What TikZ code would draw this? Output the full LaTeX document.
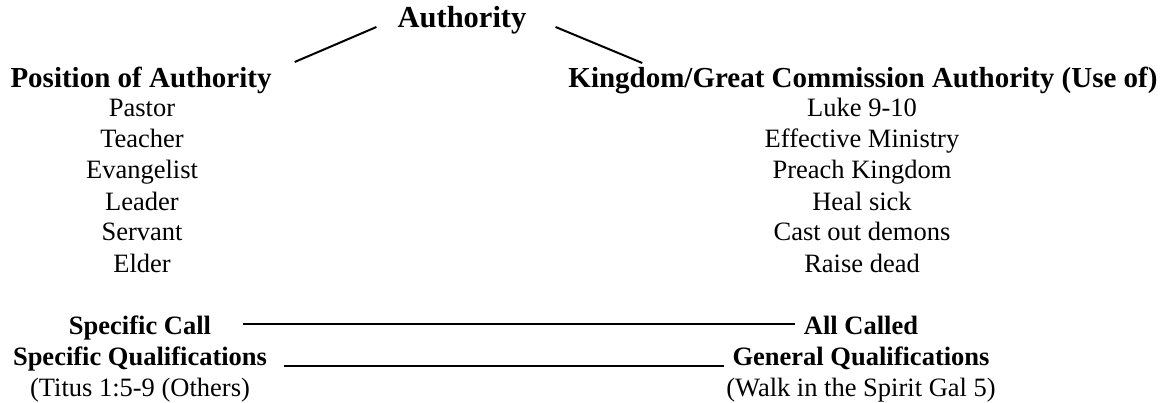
\documentclass[tikz,border=0pt]{standalone}
\usepackage{fontspec}
\setmainfont{Liberation Serif}
\tikzset{
  word/.style={inner sep=0pt,anchor=base,font=\fontsize{26.5}{30}\selectfont},
  head/.style={inner sep=0pt,anchor=base,font=\fontsize{29}{33}\selectfont\bfseries},
  tag/.style={word,font=\fontsize{26.5}{30}\selectfont\bfseries},
  link/.style={line width=2pt},
  bar/.style={line width=2.8pt}
}
\begin{document}
\begin{tikzpicture}[x=1pt,y=1pt]
\useasboundingbox (0,0) rectangle (1169,402);
\node[head,font=\fontsize{30.5}{34}\selectfont\bfseries] (auth) at (462,374) {Authority};
\node[head] (pos) at (141,314) {Position of Authority};
\node[head] (king) at (863,314) {Kingdom/Great Commission Authority (Use of)};
\foreach \txt [count=\i] in {Pastor,Teacher,Evangelist,Leader,Servant,Elder}
  \node[word] (pos\i) at (142,316-31*\i) {\txt};
\foreach \txt [count=\i] in {Luke 9-10,Effective Ministry,Preach Kingdom,Heal sick,Cast out demons,Raise dead}
  \node[word] (king\i) at (862,316-31*\i) {\txt};
\node[tag] (call) at (140,68) {Specific Call};
\node[tag] (qual) at (140,37) {Specific Qualifications};
\node[word] (titus) at (140,6) {(Titus 1:5-9 (Others)};
\node[tag] (all) at (861,68) {All Called};
\node[tag] (gen) at (861,37) {General Qualifications};
\node[word] (walk) at (861,6) {(Walk in the Spirit Gal 5)};
\draw[link] ([xshift=-21pt,yshift=1pt]auth.base west) -- ([xshift=23pt,yshift=26pt]pos.base east);
\draw[link] ([xshift=29pt,yshift=1pt]auth.base east) -- ([xshift=74pt,yshift=25pt]king.base west);
\draw[bar] ([xshift=32pt,yshift=10pt]call.base east) -- ([xshift=-9pt,yshift=10pt]all.base west);
\draw[bar] ([xshift=17pt,yshift=-1pt]qual.base east) -- ([xshift=-8pt,yshift=-1pt]gen.base west);
\end{tikzpicture}
\end{document}
